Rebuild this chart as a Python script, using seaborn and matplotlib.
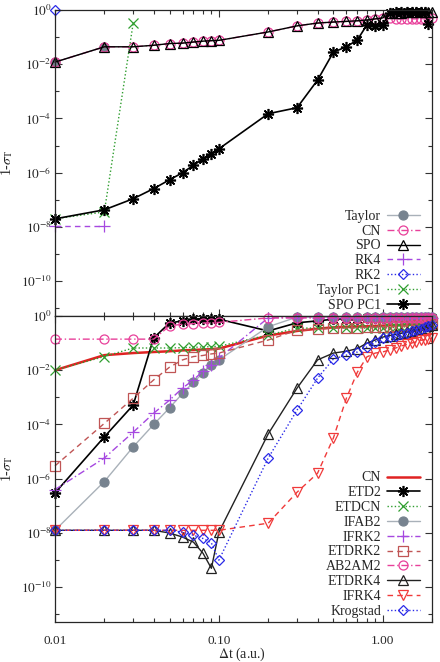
import numpy as np
import pandas as pd
import seaborn as sns
import matplotlib
matplotlib.use("Agg")
import matplotlib.pyplot as plt
from matplotlib.ticker import FixedLocator, FixedFormatter, NullFormatter

# time steps (a.u.)
dt = [0.01, 0.02, 0.03, 0.04, 0.05, 0.06, 0.07, 0.08, 0.09,
      0.1, 0.2, 0.3, 0.4, 0.5, 0.6, 0.7, 0.8, 0.9,
      1.0, 1.1, 1.2, 1.3, 1.4, 1.5, 1.6, 1.7, 1.8, 1.9, 2.0]

# ---- upper panel: 1 - sigma_T
taylor = [1.2e-2, 4.4e-2]
cn = [1.2e-2, 4.4e-2, 4.4e-2, 5.0e-2, 5.8e-2, 6.0e-2, 6.6e-2, 7.1e-2, 7.4e-2,
      7.6e-2, 0.155, 0.26, 0.33, 0.36, 0.38, 0.40, 0.43, 0.47,
      0.51, 0.49, 0.47, 0.47, 0.47, 0.47, 0.47, 0.48, 0.48, 0.49, 0.50]
spo = [1.2e-2, 4.4e-2, 4.4e-2, 5.0e-2, 5.8e-2, 6.0e-2, 6.6e-2, 7.1e-2, 7.4e-2,
       7.6e-2, 0.155, 0.26, 0.33, 0.36, 0.38, 0.40, 0.43, 0.47,
       0.51, 0.75, 0.80, 0.80, 0.81, 0.81, 0.82, 0.82, 0.82, 0.83, 0.83]
rk4 = [1.1e-8, 1.1e-8]
rk2 = [1.0]
taylor_pc1 = [2.0e-8, 3.6e-8, 0.33]
spo_pc1 = [2.0e-8, 4.3e-8, 1.1e-7, 2.6e-7, 5.5e-7, 1.0e-6, 1.9e-6, 3.2e-6, 5.0e-6,
           7.6e-6, 1.5e-4, 2.5e-4, 2.6e-3, 2.8e-2, 4.4e-2, 7.9e-2, 0.28, 0.25,
           0.28, 0.80, 0.86, 0.85, 0.87, 0.86, 0.88, 0.87, 0.88, 0.30]

# ---- lower panel
cn_b = [1.0e-2, 3.6e-2, 4.3e-2, 4.7e-2, 5.0e-2, 5.4e-2, 5.6e-2, 5.8e-2, 6.0e-2,
        6.3e-2, 0.19, 0.28, 0.34, 0.38, 0.40, 0.41, 0.42, 0.43,
        0.44, 0.45, 0.45, 0.46, 0.47, 0.48, 0.49, 0.50, 0.51, 0.53, 0.55]
etd2 = [3.0e-7, 3.5e-5, 5.2e-4, 0.155, 0.55, 0.66, 0.76, 0.79, 0.79,
        0.76, 0.28, 0.56, 0.66, 0.76, 0.79, 0.79, 0.83, 0.83,
        0.83, 0.85, 0.85, 0.85, 0.85, 0.85, 0.85, 0.85, 0.85, 0.85, 0.85]
etdcn = [1.0e-2, 3.2e-2, 6.6e-2, 6.6e-2, 6.6e-2, 6.8e-2, 7.0e-2, 7.2e-2, 7.4e-2,
         7.6e-2, 0.20, 0.355, 0.36, 0.36, 0.36, 0.36, 0.36, 0.36,
         0.36, 0.37, 0.38, 0.39, 0.40, 0.41, 0.42, 0.43, 0.44, 0.46, 0.47]
ifab2 = [1.26e-8, 7.9e-7, 1.5e-5, 1.0e-4, 4.1e-4, 1.4e-3, 3.6e-3, 7.9e-3, 1.55e-2,
         2.4e-2, 0.40, 0.91, 0.89, 0.89, 0.89, 0.89, 0.88, 0.88,
         0.88, 0.88, 0.88, 0.88, 0.88, 0.88, 0.88, 0.88, 0.88, 0.88, 0.88]
ifrk2 = [4.0e-7, 5.8e-6, 5.2e-5, 2.6e-4, 7.9e-4, 2.2e-3, 4.4e-3, 9.3e-3, 1.6e-2,
         2.8e-2, 0.85, 0.87, 0.87, 0.87, 0.87, 0.87, 0.87, 0.87,
         0.87, 0.87, 0.87, 0.87, 0.87, 0.87, 0.87, 0.87, 0.87, 0.87, 0.87]
etdrk2 = [3.0e-6, 1.1e-4, 9.3e-4, 4.4e-3, 1.3e-2, 2.4e-2, 3.2e-2, 3.5e-2, 4.0e-2,
          4.3e-2, 0.13, 0.30, 0.32, 0.355, 0.36, 0.37, 0.38, 0.39,
          0.40, 0.40, 0.41, 0.42, 0.43, 0.44, 0.45, 0.46, 0.47, 0.48, 0.50]
ab2am2 = [0.14, 0.14, 0.14, 0.14, 0.43, 0.50, 0.52, 0.55, 0.56,
          0.58, 0.85, 0.85, 0.86, 0.86, 0.86, 0.86, 0.86, 0.86,
          0.86, 0.86, 0.86, 0.86, 0.86, 0.86, 0.86, 0.86, 0.86, 0.86, 0.86]
etdrk4 = [1.26e-8, 1.26e-8, 1.26e-8, 1.26e-8, 1.0e-8, 7.1e-9, 4.6e-9, 1.8e-9, 5.0e-10,
          1.07e-8, 4.5e-5, 2.2e-3, 2.4e-2, 4.3e-2, 5.0e-2, 6.3e-2, 0.10, 0.13,
          0.166, 0.19, 0.21, 0.23, 0.25, 0.28, 0.31, 0.34, 0.37, 0.41, 0.45]
ifrk4 = [1.26e-8, 1.26e-8, 1.26e-8, 1.26e-8, 1.26e-8, 1.26e-8, 1.26e-8, 1.26e-8, 1.26e-8,
         1.26e-8, 2.3e-8, 3.2e-7, 1.6e-6, 3.2e-5, 9.3e-4, 8.5e-3, 3.1e-2, 4.3e-2,
         4.7e-2, 5.6e-2, 6.6e-2, 7.9e-2, 8.9e-2, 0.10, 0.112, 0.126, 0.135, 0.145, 0.155]
krogstad = [1.26e-8, 1.26e-8, 1.26e-8, 1.26e-8, 1.26e-8, 1.07e-8, 8.3e-9, 6.3e-9, 4.3e-9,
            1.0e-9, 5.8e-6, 3.4e-4, 5.1e-3, 2.6e-2, 3.6e-2, 4.7e-2, 7.2e-2, 0.11,
            0.155, 0.17, 0.19, 0.21, 0.24, 0.27, 0.30, 0.34, 0.38, 0.42, 0.47]

sns.set_style("ticks")
plt.rcParams['font.family'] = ['Liberation Serif', 'DejaVu Serif']
plt.rcParams['mathtext.fontset'] = 'stix'
plt.rcParams['font.size'] = 10

GRAY, GRAYL = '#77838f', '#a9b1b9'
PINK = '#e8409a'
PURPLE = '#a648e0'
BLUE = '#2a2ae8'
GREEN = '#2f9e2f'
RED = '#e02222'
RED2 = '#f03a3a'
BROWN = '#c05555'

dashdot = (0, (5, 2, 1, 2))
dashed = (0, (4, 3))
dotted = (0, (1, 1.6))
asterisk = (8, 2, 0)

fig = plt.figure(figsize=(4.4, 6.62), dpi=100)
ax1 = fig.add_axes([0.125, 0.5227, 0.857, 0.4622])
ax2 = fig.add_axes([0.125, 0.0604, 0.857, 0.4623])


def draw(ax, y, label, color, ls, marker, ms=6, mfc='none', mec=None, lw=1.0, mew=0.9):
    sns.lineplot(x=dt[:len(y)], y=y, ax=ax, color=color, linestyle=ls, linewidth=lw,
                 marker=marker, markersize=ms, markerfacecolor=mfc,
                 markeredgecolor=mec if mec else color, markeredgewidth=mew,
                 label=label, errorbar=None, sort=False, clip_on=False)


draw(ax1, taylor, 'Taylor', GRAYL, '-', 'o', ms=6.5, mfc=GRAY, mec=GRAY)
draw(ax1, cn, 'CN', PINK, dashdot, 'o', ms=6.5)
draw(ax1, spo, 'SPO', 'black', '-', '^', ms=6.5)
draw(ax1, rk4, 'RK4', PURPLE, dashed, '+', ms=8)
draw(ax1, rk2, 'RK2', BLUE, dotted, 'D', ms=5)
draw(ax1, taylor_pc1, 'Taylor PC1', GREEN, dotted, 'x', ms=7)
draw(ax1, spo_pc1, 'SPO PC1', 'black', '-', asterisk, ms=8, mew=1.2, lw=1.2)

draw(ax2, cn_b, 'CN', RED, '-', None, lw=1.8)
draw(ax2, etd2, 'ETD2', 'black', '-', asterisk, ms=8, mew=1.2, lw=1.2)
draw(ax2, etdcn, 'ETDCN', GREEN, dotted, 'x', ms=7)
draw(ax2, ifab2, 'IFAB2', GRAYL, '-', 'o', ms=6.5, mfc=GRAY, mec=GRAY)
draw(ax2, ifrk2, 'IFRK2', PURPLE, dashdot, '+', ms=8)
draw(ax2, etdrk2, 'ETDRK2', BROWN, dashed, 's', ms=6.5)
draw(ax2, ab2am2, 'AB2AM2', PINK, dashdot, 'o', ms=6.5)
draw(ax2, etdrk4, 'ETDRK4', '#222222', '-', '^', ms=6.5)
draw(ax2, ifrk4, 'IFRK4', RED2, dashed, 'v', ms=6.5)
draw(ax2, krogstad, 'Krogstad', BLUE, dotted, 'D', ms=5)

ymaj = [10.0 ** -k for k in range(0, 11, 2)]
ymin = [10.0 ** -k for k in range(1, 12, 2)]
ylabs = [r'$10^{%d}$' % -k if k else r'$10^{0}$' for k in range(0, 11, 2)]

for ax in (ax1, ax2):
    ax.set_xscale('log')
    ax.set_yscale('log')
    ax.set_xlim(0.01, 2.0)
    ax.set_ylim(10 ** -11.28, 1.0)
    ax.yaxis.set_major_locator(FixedLocator(ymaj))
    ax.yaxis.set_major_formatter(FixedFormatter(ylabs))
    ax.yaxis.set_minor_locator(FixedLocator(ymin))
    ax.yaxis.set_minor_formatter(NullFormatter())
    ax.tick_params(which='both', direction='in', top=True, right=True, labelsize=9.5,
                   width=0.8, color='#333333')
    ax.tick_params(which='major', length=5)
    ax.tick_params(which='minor', length=3)
    ax.tick_params(axis='y', pad=2.5)
    ax.set_ylabel(r'1-$\sigma_{\rm T}$', fontsize=10)
    ax.yaxis.set_label_coords(-0.105, 0.5)
    ax.set_xlabel('')
    for s in ax.spines.values():
        s.set_linewidth(0.9)
    ax.legend(loc='lower right', bbox_to_anchor=(0.975, 0.005), frameon=False,
              markerfirst=False, fontsize=10, handlelength=2.4, labelspacing=0.13,
              handletextpad=0.4, borderaxespad=0.0, borderpad=0.2, numpoints=1)

ax1.xaxis.set_major_locator(FixedLocator([0.01, 0.1, 1.0]))
ax1.tick_params(axis='x', labelbottom=False)
ax2.xaxis.set_major_locator(FixedLocator([0.01, 0.1, 1.0]))
ax2.xaxis.set_major_formatter(FixedFormatter(['0.01', '0.10', '1.00']))
ax2.tick_params(axis='x', pad=9)

fig.text(0.55, 0.012, r'$\Delta$t (a.u.)', ha='center', va='center', fontsize=10)

fig.savefig('out.png', dpi=100)
